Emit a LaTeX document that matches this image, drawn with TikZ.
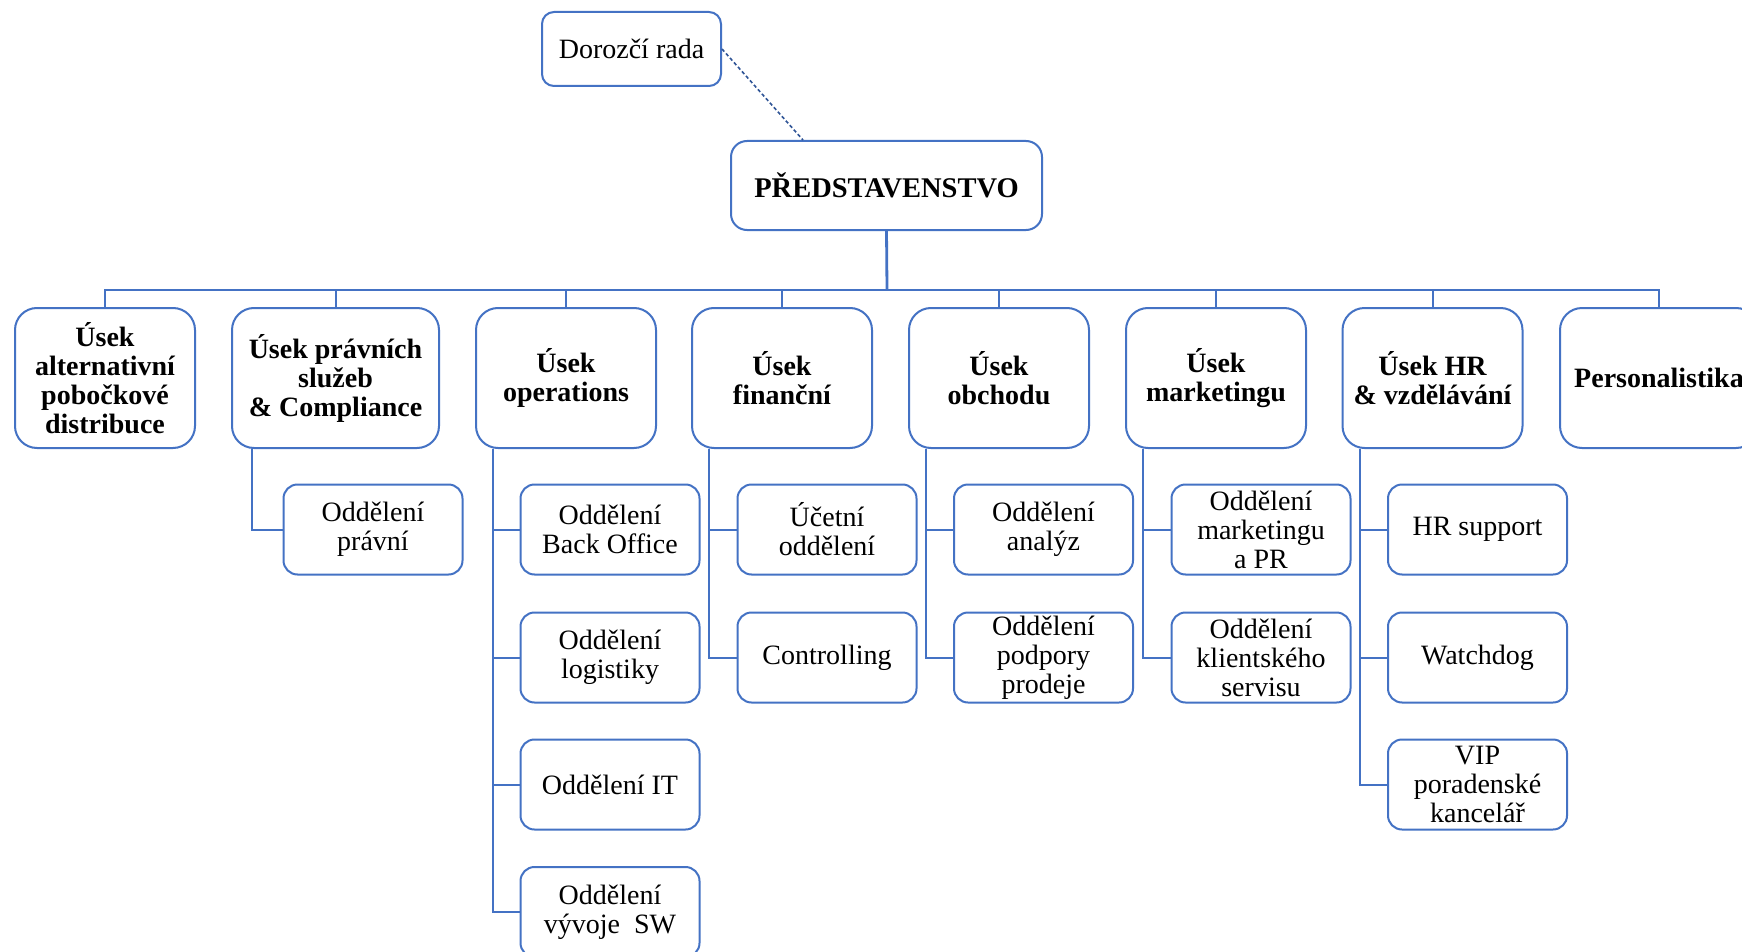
\documentclass[tikz,border=0pt]{standalone}
\usepackage{fontspec}
\setmainfont{Liberation Serif}
\usetikzlibrary{calc}
\definecolor{ob}{HTML}{4472C4}
\definecolor{dashblue}{HTML}{2F5496}
\begin{document}
\begin{tikzpicture}[x=1pt,y=-1pt,
  box/.style={draw=ob, line width=2pt, align=center, inner sep=2pt, fill=white,
    font=\fontsize{28}{29}\selectfont},
  topbox/.style={box, rounded corners=22pt, minimum width=180pt, minimum height=140pt,
    font=\fontsize{28}{29}\selectfont\bfseries},
  subbox/.style={box, rounded corners=14pt, minimum width=179pt, minimum height=90pt},
  link/.style={draw=ob, line width=2pt},
  dlink/.style={draw=dashblue, line width=1.6pt, dash pattern=on 3.5pt off 2.5pt}]
\clip (0,0) rectangle (1742,952);
\fill[white] (0,0) rectangle (1742,952);

% board
\node[box, rounded corners=12pt, minimum width=179pt, minimum height=74pt] (dr) at (631.5,49) {Dorozčí rada};
\node[box, rounded corners=16pt, minimum width=311pt, minimum height=89pt,
      font=\fontsize{28.5}{30}\selectfont\bfseries] (pred) at (886.5,185.5) {PŘEDSTAVENSTVO};

% top-level divisions
\node[topbox] (u1) at (105,378) {Úsek\\alternativní\\pobočkové\\distribuce};
\node[topbox, minimum width=207pt] (u2) at (335.5,378) {Úsek právních\\služeb\\\& Compliance};
\node[topbox] (u3) at (566,378) {Úsek\\operations};
\node[topbox] (u4) at (782,378) {Úsek\\finanční};
\node[topbox] (u5) at (999,378) {Úsek\\obchodu};
\node[topbox] (u6) at (1216,378) {Úsek\\marketingu};
\node[topbox] (u7) at (1432.5,378) {Úsek HR\\\& vzdělávání};
\node[topbox, minimum width=198pt] (u8) at (1659,378) {Personalistika};

% departments
\node[subbox] (c21) at (373,529.5) {Oddělení\\právní};
\node[subbox] (c31) at (610,529.5) {Oddělení\\Back Office};
\node[subbox] (c32) at (610,657.5) {Oddělení\\logistiky};
\node[subbox] (c33) at (610,784.5) {Oddělení IT};
\node[subbox] (c34) at (610,912) {Oddělení\\vývoje~~SW};
\node[subbox] (c41) at (827,529.5) {Účetní\\oddělení};
\node[subbox] (c42) at (827,657.5) {Controlling};
\node[subbox] (c51) at (1043.5,529.5) {Oddělení\\analýz};
\node[subbox] (c52) at (1043.5,657.5) {Oddělení\\podpory\\prodeje};
\node[subbox] (c61) at (1261,529.5) {Oddělení\\marketingu\\a PR};
\node[subbox] (c62) at (1261,657.5) {Oddělení\\klientského\\servisu};
\node[subbox] (c71) at (1477.5,529.5) {HR support};
\node[subbox] (c72) at (1477.5,657.5) {Watchdog};
\node[subbox] (c73) at (1477.5,784.5) {VIP\\poradenské\\kancelář};

% connectors
\coordinate (bus) at (887,289.5);
\draw[dlink] (dr.east) -- ([xshift=-83.5pt]pred.north);
\draw[link, line width=2.8pt] (pred.south) -- (bus);
\foreach \u in {u1,u2,u3,u4,u5,u6,u7,u8}{
  \draw[link] (bus) -| (\u.north);
}
\draw[link] ([xshift=21pt]u2.south west) |- (c21.west);
\foreach \c in {c31,c32,c33,c34}{
  \draw[link] ([xshift=18pt]u3.south west) |- (\c.west);
}
\foreach \c in {c41,c42}{
  \draw[link] ([xshift=18pt]u4.south west) |- (\c.west);
}
\foreach \c in {c51,c52}{
  \draw[link] ([xshift=18pt]u5.south west) |- (\c.west);
}
\foreach \c in {c61,c62}{
  \draw[link] ([xshift=18pt]u6.south west) |- (\c.west);
}
\foreach \c in {c71,c72,c73}{
  \draw[link] ([xshift=18pt]u7.south west) |- (\c.west);
}
\end{tikzpicture}
\end{document}
